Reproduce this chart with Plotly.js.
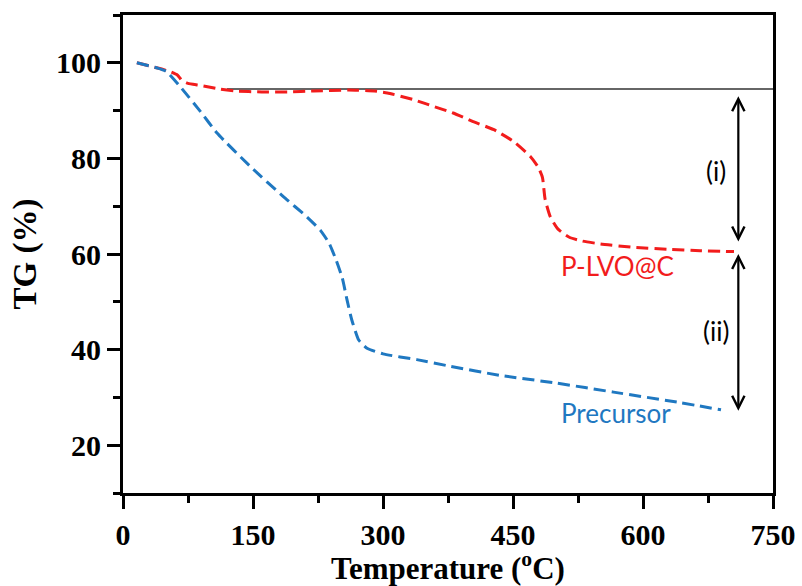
<!DOCTYPE html>
<html>
<head>
<meta charset="utf-8">
<script src="https://cdn.plot.ly/plotly-3.0.1.min.js"></script>
<style>html,body{margin:0;padding:0;background:#fff;}#chart{width:802px;height:586px;}</style>
</head>
<body>
<div id="chart"></div>
<script>
// P-LVO@C TG curve
const plvoTemp = [16, 40, 55, 63, 68, 75, 89, 112, 130, 160, 190, 220, 260, 290, 305, 335, 358, 381, 404, 428, 451, 470, 479, 484, 487, 493, 502, 515, 530, 551, 589, 628, 666, 705];
const plvoTG   = [100, 98.9, 98.1, 97.4, 96.3, 95.7, 95.3, 94.5, 94.1, 93.9, 93.9, 94.1, 94.3, 94.1, 93.7, 92.3, 90.9, 89.5, 87.7, 86.0, 83.5, 80.4, 78.2, 76.0, 71.5, 67.8, 65.2, 63.5, 62.7, 62.1, 61.4, 61.0, 60.7, 60.5];
// Precursor TG curve
const precTemp = [16, 40, 50, 66, 89, 108.5, 147, 185, 212, 228, 238, 246, 253, 258.5, 264, 272, 281.5, 300, 339, 378, 435, 500, 566, 643, 690];
const precTG   = [100, 98.9, 98.2, 95.0, 89.9, 85.3, 78.3, 72.0, 67.8, 64.9, 62.2, 58.7, 55.0, 50.4, 46.2, 42.0, 40.3, 39.1, 37.9, 36.5, 34.6, 33.0, 31.1, 28.9, 27.4];
// reference level line
const refTemp = [120, 750];
const refTG = [94.5, 94.5];
// double arrows (i) and (ii)
const arrowTemp = 710;
const arrowI = [93.3, 62.6];
const arrowII = [60.3, 27.2];
const arrowLabels = ['(i)', '(ii)'];
const arrowLabelTemp = 684.5;
const arrowLabelTG = [77.3, 43.8];
// series labels
const seriesNames = ['P-LVO@C', 'Precursor'];
const seriesLabelTemp = [570, 569];
const seriesLabelTG = [57.4, 26.8];

const red = '#f21c1c';
const blue = '#1f78c1';

const traces = [
  {x: refTemp, y: refTG, mode: 'lines', line: {color: '#333', width: 1.5}, hoverinfo: 'skip'},
  {x: plvoTemp, y: plvoTG, name: seriesNames[0], mode: 'lines', line: {color: red, width: 3, dash: '12px,6px', shape: 'spline', smoothing: 0.5}},
  {x: precTemp, y: precTG, name: seriesNames[1], mode: 'lines', line: {color: blue, width: 3, dash: '12px,6px', shape: 'spline', smoothing: 0.5}}
];

const serif = 'Liberation Serif, Times New Roman, serif';
const sans = 'Lato, Liberation Sans, Arial, sans-serif';

function arrow(pair) {
  return {x: arrowTemp, y: pair[1], ax: arrowTemp, ay: pair[0], xref: 'x', yref: 'y', axref: 'x', ayref: 'y',
    text: '', showarrow: true, arrowside: 'end+start', arrowhead: 5, startarrowhead: 5,
    arrowsize: 1.1, startarrowsize: 1.1, arrowwidth: 2.2, arrowcolor: '#000', standoff: 0, startstandoff: 0};
}

const annotations = [
  arrow(arrowI), arrow(arrowII),
  {x: arrowLabelTemp, y: arrowLabelTG[0], xref: 'x', yref: 'y', text: arrowLabels[0], showarrow: false, font: {family: sans, size: 26, color: '#000'}},
  {x: arrowLabelTemp, y: arrowLabelTG[1], xref: 'x', yref: 'y', text: arrowLabels[1], showarrow: false, font: {family: sans, size: 26, color: '#000'}},
  {x: seriesLabelTemp[0], y: seriesLabelTG[0], xref: 'x', yref: 'y', text: seriesNames[0], showarrow: false, font: {family: sans, size: 26, color: red}},
  {x: seriesLabelTemp[1], y: seriesLabelTG[1], xref: 'x', yref: 'y', text: seriesNames[1], showarrow: false, font: {family: sans, size: 26, color: blue}}
];

const layout = {
  width: 802, height: 586,
  margin: {l: 123, r: 29, t: 15, b: 93},
  paper_bgcolor: '#fff', plot_bgcolor: '#fff',
  showlegend: false,
  xaxis: {
    range: [0, 750], tick0: 0, dtick: 150, ticks: 'outside', ticklen: 13, tickwidth: 3, tickcolor: '#000',
    showline: true, linewidth: 3, linecolor: '#000', mirror: true, showgrid: false, zeroline: false,
    tickfont: {family: serif, size: 30, weight: 'bold', color: '#000'},
    minor: {dtick: 75, ticks: 'outside', ticklen: 7, tickwidth: 3, tickcolor: '#000', showgrid: false},
    title: {text: 'Temperature (<sup>o</sup>C)', font: {family: serif, size: 31, weight: 'bold', color: '#000'}, standoff: 11}
  },
  yaxis: {
    range: [10, 110], tick0: 0, dtick: 20, ticks: 'outside', ticklen: 13, tickwidth: 3, tickcolor: '#000',
    showline: true, linewidth: 3, linecolor: '#000', mirror: true, showgrid: false, zeroline: false,
    tickfont: {family: serif, size: 30, weight: 'bold', color: '#000'},
    minor: {dtick: 10, ticks: 'outside', ticklen: 7, tickwidth: 3, tickcolor: '#000', showgrid: false},
    title: {text: 'TG (%)', font: {family: serif, size: 33, weight: 'bold', color: '#000'}, standoff: 10}
  },
  annotations: annotations
};

Plotly.newPlot('chart', traces, layout, {displayModeBar: false, staticPlot: true});
</script>
</body>
</html>
